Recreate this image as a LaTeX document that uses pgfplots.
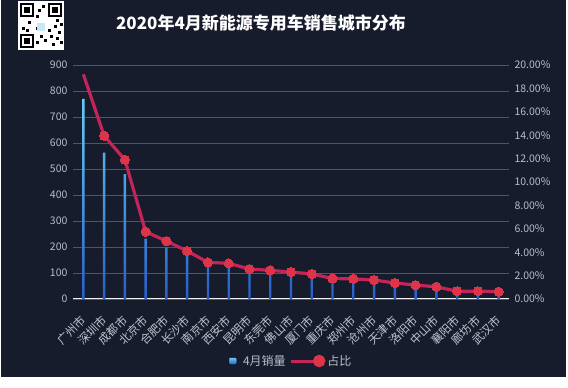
\documentclass[border=0pt]{standalone}
\usepackage{pgfplots}
\pgfplotsset{compat=1.18}
\usepackage{fontspec}
\setmainfont{Noto Sans CJK SC}
\definecolor{bg}{RGB}{22,28,44}
\definecolor{gridc}{RGB}{78,85,100}
\definecolor{tickc}{RGB}{185,190,200}
\definecolor{linec}{RGB}{196,36,88}
\definecolor{markc}{RGB}{222,52,74}
\definecolor{bartop}{RGB}{100,205,245}
\definecolor{barbot}{RGB}{40,95,200}
\definecolor{qrlogo}{RGB}{200,230,250}
\pgfplotstableread{
idx sales share
0 770 19.2
1 563 13.95
2 480 11.9
3 232 5.75
4 199 4.95
5 168 4.1
6 126 3.13
7 122 3.05
8 104 2.56
9 99 2.45
10 93 2.3
11 86 2.14
12 70 1.75
13 69 1.72
14 65 1.62
15 55 1.37
16 48 1.19
17 42 1.04
18 27 0.67
19 27 0.67
20 25 0.63
}\datatable
\begin{document}
\begin{tikzpicture}
\path[use as bounding box, fill=white] (0pt,0pt) rectangle (568pt,388pt);
\fill[bg] (1pt,11pt) rectangle (566pt,388pt);
% QR placeholder
\fill[white] (18pt,338pt) rectangle (64pt,387pt);
\foreach \a/\b in {20/340,20/371,48/371}{
  \fill[black] (\a pt,\b pt) rectangle ++(14pt,14pt);
  \fill[white] (\a pt+2pt,\b pt+2pt) rectangle ++(10pt,10pt);
  \fill[black] (\a pt+4pt,\b pt+4pt) rectangle ++(6pt,6pt);
}
\foreach \a/\b in {36/344,40/350,44/346,52/342,56/348,60/344,36/358,42/362,48/356,54/360,58/354,22/358,28/364,26/356,38/376,42/380,36/370,56/366,60/362,50/350}{
  \fill[black] (\a pt,\b pt) rectangle ++(3pt,3pt);
}
\fill[qrlogo] (37pt,357pt) rectangle (45pt,365pt);
\node[font=\fontsize{17}{20}\selectfont\bfseries, text=white] at (261pt,365pt) {2020年4月新能源专用车销售城市分布};
\begin{axis}[
  at={(73pt,89pt)}, anchor=south west,
  scale only axis, width=436pt, height=234pt,
  xmin=-0.5, xmax=20.5, ymin=0, ymax=900,
  ytick={0,100,...,900},
  xtick={0,...,20},
  xticklabels={广州市,深圳市,成都市,北京市,合肥市,长沙市,南京市,西安市,昆明市,东莞市,佛山市,厦门市,重庆市,郑州市,沧州市,天津市,洛阳市,中山市,襄阳市,廊坊市,武汉市},
  axis x line*=bottom, axis y line*=left,
  x axis line style={draw=white!90!gray, line width=1pt, -},
  y axis line style={draw=none},
  major tick length=0pt,
  ymajorgrids, grid style={gridc, line width=0.6pt},
  yticklabel style={font=\fontsize{10.5}{12}\selectfont, text=tickc, xshift=-2pt},
  xticklabel style={font=\fontsize{11.5}{13}\selectfont, text=tickc!90!white, xshift=-12pt, yshift=-31pt, rotate=45, anchor=center, inner sep=0pt},
  /pgf/number format/assume math mode=true,
]
\addplot[ybar, bar width=2.4pt, draw=none, top color=bartop, bottom color=barbot] table[x=idx,y=sales]{\datatable};
\end{axis}
\begin{axis}[
  at={(73pt,89pt)}, anchor=south west,
  scale only axis, width=436pt, height=234pt,
  xmin=-0.5, xmax=20.5, ymin=0, ymax=20,
  ytick={0,2,...,20},
  axis x line=none, axis y line*=right,
  y axis line style={draw=none},
  major tick length=0pt,
  yticklabel={\pgfmathprintnumber[fixed,fixed zerofill,precision=2]{\tick}\%},
  yticklabel style={font=\fontsize{10.5}{12}\selectfont, text=tickc, xshift=2pt},
  /pgf/number format/assume math mode=true,
  legend style={at={(0.5,-0.265)}, anchor=center, draw=none, fill=none, text=tickc, font=\fontsize{12}{14}\selectfont, legend columns=2, /tikz/every even column/.append style={column sep=2pt}},
]
\addlegendimage{legend image code/.code={\fill[top color=bartop, bottom color=barbot, rounded corners=1pt] (0pt,-3.5pt) rectangle (8pt,3.5pt); \path (12pt,0pt);}}
\addlegendentry{4月销量}
\addplot[linec, line width=3.2pt, mark=*, mark size=4.6pt, mark options={fill=markc, draw=markc, line width=0pt}, mark indices={2,...,21},
  legend image code/.code={\draw[linec, line width=3pt] (0pt,0pt) -- (28pt,0pt); \fill[markc] (28pt,0pt) circle (4.6pt);}]
  table[x=idx,y=share]{\datatable};
\addlegendentry{占比}
\end{axis}
\end{tikzpicture}
\end{document}
